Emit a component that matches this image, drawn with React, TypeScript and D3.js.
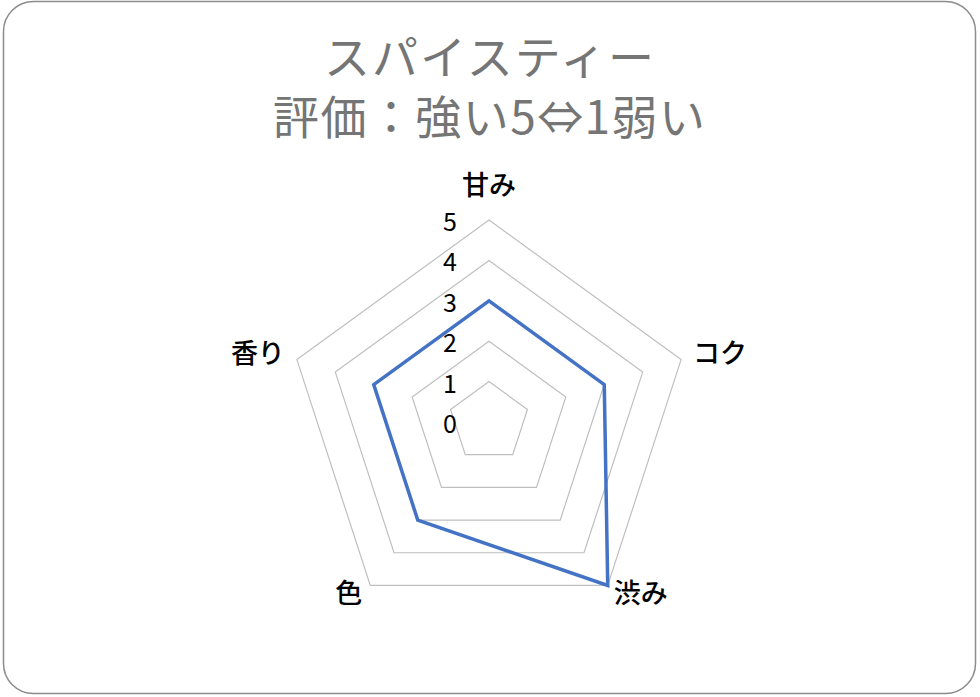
import React, { useEffect, useRef } from 'react';
import * as d3 from 'd3';

const categories = ['甘み', 'コク', '渋み', '色', '香り'];
const values = [3, 3, 5, 3, 3];
const ticks = [0, 1, 2, 3, 4, 5];
const titleLines = ['スパイスティー', '評価：強い5⇔1弱い'];

const App = () => {
    const svgRef = useRef(null);

    useEffect(() => {
        if (!svgRef.current) return;
        const width = 980;
        const height = 697;
        const cx = 489;
        const cy = 422;
        const radius = 202;
        const font = '"Noto Sans CJK JP", "Noto Sans", sans-serif';

        const svg = d3.select(svgRef.current);
        svg.selectAll('*').remove();
        svg.attr('width', width).attr('height', height).attr('viewBox', `0 0 ${width} ${height}`);

        // Frame
        svg.append('rect')
            .attr('x', 3.5).attr('y', 1.5)
            .attr('width', 972).attr('height', 692)
            .attr('rx', 30).attr('ry', 30)
            .attr('fill', '#ffffff')
            .attr('stroke', '#8c8c8c')
            .attr('stroke-width', 1.5);

        // Title
        svg.append('g').selectAll('text')
            .data(titleLines)
            .join('text')
            .attr('x', cx)
            .attr('y', (d, i) => 74 + i * 60)
            .attr('text-anchor', 'middle')
            .attr('font-family', font)
            .attr('font-size', 46)
            .attr('textLength', (d, i) => (i === 0 ? 330 : 432))
            .attr('fill', '#757575')
            .text(d => d);

        const r = d3.scaleLinear().domain([0, 5]).range([0, radius]);
        const angle = d3.scalePoint<string>().domain(categories).range([0, 2 * Math.PI * (categories.length - 1) / categories.length]);
        const pt = (cat: string, v: number): [number, number] => {
            const a = angle(cat) as number;
            return [cx + r(v) * Math.sin(a), cy - r(v) * Math.cos(a)];
        };

        const line = d3.line<[number, number]>().curve(d3.curveLinearClosed);

        // Grid rings
        const g = svg.append('g');
        g.selectAll('path.ring')
            .data(ticks.filter(t => t > 0))
            .join('path')
            .attr('class', 'ring')
            .attr('d', t => line(categories.map(c => pt(c, t))))
            .attr('fill', 'none')
            .attr('stroke', '#bfbfbf')
            .attr('stroke-width', 1.2);

        // Tick labels
        g.selectAll('text.tick')
            .data(ticks)
            .join('text')
            .attr('class', 'tick')
            .attr('x', cx - 32)
            .attr('y', t => cy - r(t) + 11)
            .attr('text-anchor', 'end')
            .attr('font-family', font)
            .attr('font-size', 25)
            .attr('fill', '#000')
            .text(t => t);

        // Series
        g.append('path')
            .attr('d', line(categories.map((c, i) => pt(c, values[i]))))
            .attr('fill', 'none')
            .attr('stroke', '#4472c4')
            .attr('stroke-width', 3.5)
            .attr('stroke-linejoin', 'miter');

        // Category labels
        const labelPos: [number, number, string][] = [
            [0, -34, 'middle'],
            [12, -6, 'start'],
            [6, 8, 'start'],
            [-8, 8, 'end'],
            [-12, -6, 'end'],
        ];
        g.selectAll('text.cat')
            .data(categories)
            .join('text')
            .attr('class', 'cat')
            .attr('x', (c, i) => pt(c, 5)[0] + labelPos[i][0])
            .attr('y', (c, i) => pt(c, 5)[1] + labelPos[i][1])
            .attr('dy', '0.35em')
            .attr('text-anchor', (c, i) => labelPos[i][2])
            .attr('font-family', font)
            .attr('font-size', 27)
            .attr('font-weight', 500)
            .attr('fill', '#000')
            .text(c => c);
    }, []);

    return (
        <svg ref={svgRef} style={{ position: 'absolute', left: 0, top: 0, background: '#fff' }}></svg>
    );
};

export default App;
